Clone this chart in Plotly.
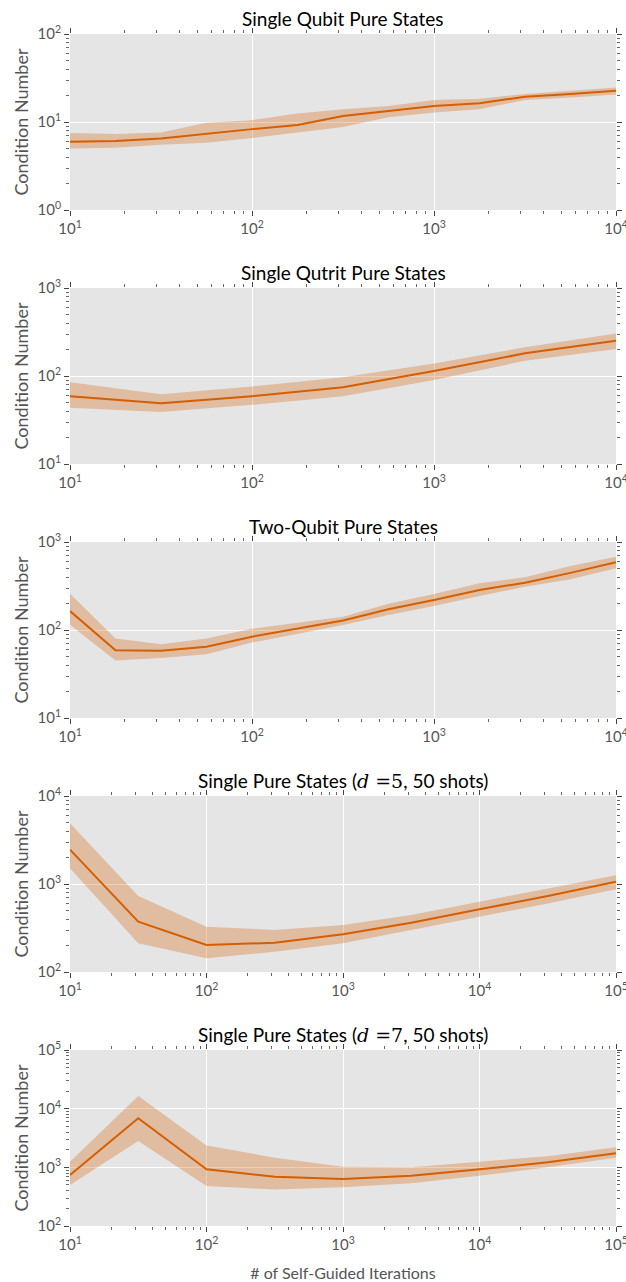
import plotly.graph_objects as go

# ---------------- data ----------------
titles = [
    "Single Qubit Pure States",
    "Single Qutrit Pure States",
    "Two-Qubit Pure States",
    "Single Pure States (<i><span style=\"font-family:'DejaVu Serif'\">d</span></i><span style=\"font-family:'DejaVu Serif'\"> =5</span>, 50 shots)",
    "Single Pure States (<i><span style=\"font-family:'DejaVu Serif'\">d</span></i><span style=\"font-family:'DejaVu Serif'\"> =7</span>, 50 shots)",
]

x_fine = [10, 17.78, 31.62, 56.23, 100, 177.8, 316.2, 562.3, 1000, 1778, 3162, 5623, 10000]
x_half = [10, 31.62, 100, 316.2, 1000, 3162, 10000]
x_wide = [10, 31.62, 100, 316.2, 1000, 3162, 10000, 31623, 100000]

p1_mean = [5.97, 6.1, 6.5, 7.4, 8.3, 9.25, 11.7, 13.3, 15.2, 16.3, 19.4, 20.8, 22.7]
p1_up = [7.5, 7.3, 7.6, 9.8, 10.5, 12.5, 14.0, 15.2, 17.8, 18.4, 20.8, 22.4, 24.6]
p1_lo = [5.0, 5.1, 5.5, 5.8, 6.6, 7.6, 8.8, 11.3, 12.8, 14.0, 17.8, 19.0, 20.6]

p2_mean = [59, 49, 59, 74.5, 114, 181, 252]
p2_up = [85, 62, 76, 97, 139, 212, 305]
p2_lo = [43.6, 39, 47, 59, 90, 149, 203]

p3_mean = [164, 59, 58, 64.5, 84, 103, 128, 172, 219, 285, 345, 446, 588]
p3_up = [258, 80, 69, 80, 103, 121, 141, 199, 257, 340, 397, 533, 680]
p3_lo = [115, 45, 48, 53, 72, 90, 114, 148, 187, 243, 310, 377, 502]

p4_mean = [2460, 373, 203, 215, 268, 362, 516, 730, 1060]
p4_up = [4900, 730, 327, 300, 342, 445, 630, 895, 1260]
p4_lo = [1510, 212, 143, 170, 212, 300, 433, 602, 870]

p5_mean = [741, 6850, 925, 690, 633, 720, 925, 1217, 1740]
p5_up = [1250, 16400, 2350, 1460, 1025, 1000, 1250, 1550, 2190]
p5_lo = [500, 2800, 480, 420, 457, 534, 720, 1000, 1460]

x_exp = [[1, 4], [1, 4], [1, 4], [1, 5], [1, 5]]
y_exp = [[0, 2], [1, 3], [1, 3], [2, 4], [2, 5]]

ylabel = "Condition Number"
xlabel = "# of Self-Guided Iterations"

panels = [
    (x_fine, p1_mean, p1_up, p1_lo),
    (x_half, p2_mean, p2_up, p2_lo),
    (x_fine, p3_mean, p3_up, p3_lo),
    (x_wide, p4_mean, p4_up, p4_lo),
    (x_wide, p5_mean, p5_up, p5_lo),
]

# ---------------- layout geometry ----------------
W, H = 626, 1282
ML, MR, MT, MB = 70, 10, 34, 56
PH = H - MT - MB
LINE = "#D55E00"
BAND = "rgba(213,94,0,0.30)"
TXT = "#555555"
FONT = "Lato"


def minor_vals(e0, e1):
    return [m * 10 ** e for e in range(e0, e1) for m in range(2, 10)]


fig = go.Figure()
annotations = []

for k, (xs, m, up, lo) in enumerate(panels):
    top_px = MT + 254 * k
    bot_px = top_px + 176
    d0 = (H - MB - bot_px) / PH
    d1 = (H - MB - top_px) / PH
    sfx = "" if k == 0 else str(k + 1)
    xa, ya = "x" + sfx, "y" + sfx

    fig.add_trace(go.Scatter(x=xs, y=lo, mode="lines", line=dict(width=0, color=BAND),
                             xaxis=xa, yaxis=ya, showlegend=False, hoverinfo="skip"))
    fig.add_trace(go.Scatter(x=xs, y=up, mode="lines", line=dict(width=0, color=BAND),
                             fill="tonexty", fillcolor=BAND,
                             xaxis=xa, yaxis=ya, showlegend=False, hoverinfo="skip"))
    fig.add_trace(go.Scatter(x=xs, y=m, mode="lines", line=dict(width=2, color=LINE),
                             xaxis=xa, yaxis=ya, showlegend=False))

    xe, ye = x_exp[k], y_exp[k]
    xt = list(range(xe[0], xe[1] + 1))
    yt = list(range(ye[0], ye[1] + 1))
    common = dict(
        type="log", showgrid=True, gridcolor="white", gridwidth=1,
        zeroline=False, showline=False, ticks="outside", ticklen=5, tickwidth=1,
        tickcolor="#444", mirror="ticks", ticklabeloverflow="allow", automargin=False,
        tickfont=dict(family=FONT, size=15, color=TXT),
    )
    xaxis = dict(common, domain=[0, 1], anchor=ya,
                 range=[xe[0], xe[1]],
                 tickvals=[10 ** e for e in xt],
                 ticktext=["10<sup>%d</sup>" % e for e in xt],
                 minor=dict(ticks="outside", ticklen=3, tickwidth=1, tickcolor="#666",
                            showgrid=False, tickvals=minor_vals(xe[0], xe[1])))
    yaxis = dict(common, domain=[d0, d1], anchor=xa,
                 range=[ye[0], ye[1]],
                 tickvals=[10 ** e for e in yt],
                 ticktext=["10<sup>%d</sup>" % e for e in yt],
                 minor=dict(ticks="outside", ticklen=3, tickwidth=1, tickcolor="#666",
                            showgrid=False, tickvals=minor_vals(ye[0], ye[1])),
                 title=dict(text=ylabel, font=dict(family=FONT, size=18, color=TXT), standoff=4))
    if k == 4:
        xaxis["title"] = dict(text=xlabel, font=dict(family=FONT, size=16, color=TXT), standoff=16)
    fig.update_layout(**{"xaxis" + sfx: xaxis, "yaxis" + sfx: yaxis})

    annotations.append(dict(text=titles[k], x=0.5, y=d1, xref="paper", yref="paper",
                            xanchor="center", yanchor="bottom", yshift=2, showarrow=False,
                            font=dict(family=FONT, size=19, color="black")))

fig.update_layout(
    width=W, height=H,
    margin=dict(l=ML, r=MR, t=MT, b=MB, autoexpand=False),
    paper_bgcolor="white", plot_bgcolor="#E5E5E5",
    annotations=annotations,
    showlegend=False,
)

fig.write_html("out.html")
